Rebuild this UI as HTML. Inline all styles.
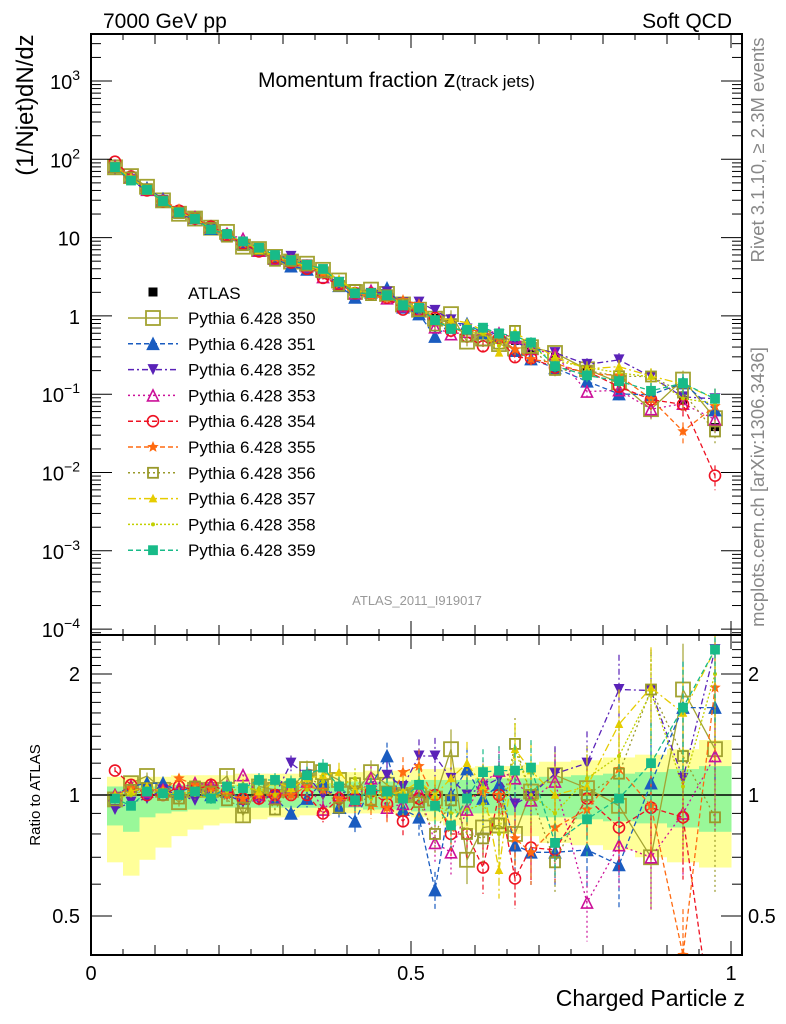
<!DOCTYPE html>
<html><head><meta charset="utf-8"><style>
html,body{margin:0;padding:0;background:#fff;width:786px;height:1024px;overflow:hidden;}
svg{display:block;font-family:"Liberation Sans",Arial,sans-serif;}
</style></head><body>
<svg id="chart" width="786" height="1024" viewBox="0 0 786 1024" xmlns="http://www.w3.org/2000/svg">
<defs>
<clipPath id="clipMain"><rect x="91" y="34" width="651" height="601"/></clipPath>
<clipPath id="clipRatio"><rect x="91" y="635" width="651" height="320"/></clipPath>
</defs>
<g id="bands" clip-path="url(#clipRatio)"></g>
<g id="plotMain" clip-path="url(#clipMain)"></g>
<g id="plotRatio" clip-path="url(#clipRatio)"></g>
<g id="axes"></g>
<text x="103" y="28" font-size="21">7000 GeV pp</text>
<text x="732" y="28" font-size="21" text-anchor="end">Soft QCD</text>
<text x="258" y="87" font-size="21">Momentum fraction <tspan font-size="24">z</tspan><tspan font-size="17">(track jets)</tspan></text>
<text transform="translate(33,105) rotate(-90)" font-size="24" text-anchor="middle">(1/Njet)dN/dz</text>
<text transform="translate(40,795) rotate(-90)" font-size="15" text-anchor="middle">Ratio to ATLAS</text>
<text x="745" y="1006" font-size="23" text-anchor="end">Charged Particle z</text>
<text transform="translate(764,150) rotate(-90)" font-size="18.5" fill="#888" text-anchor="middle">Rivet 3.1.10, ≥ 2.3M events</text>
<text transform="translate(764,487) rotate(-90)" font-size="18.5" fill="#888" text-anchor="middle">mcplots.cern.ch [arXiv:1306.3436]</text>
<text x="417" y="605" font-size="13" fill="#999" text-anchor="middle">ATLAS_2011_I919017</text>
<g id="legend"></g>
</svg>
<script>
const zCenters = [0.0375,0.0625,0.0875,0.1125,0.1375,0.1625,0.1875,0.2125,0.2375,0.2625,0.2875,0.3125,0.3375,0.3625,0.3875,0.4125,0.4375,0.4625,0.4875,0.5125,0.5375,0.5625,0.5875,0.6125,0.6375,0.6625,0.6875,0.725,0.775,0.825,0.875,0.925,0.975];
const binLow = [0.025,0.05,0.075,0.1,0.125,0.15,0.175,0.2,0.225,0.25,0.275,0.3,0.325,0.35,0.375,0.4,0.425,0.45,0.475,0.5,0.525,0.55,0.575,0.6,0.625,0.65,0.675,0.7,0.75,0.8,0.85,0.9,0.95];
const binHigh = [0.05,0.075,0.1,0.125,0.15,0.175,0.2,0.225,0.25,0.275,0.3,0.325,0.35,0.375,0.4,0.425,0.45,0.475,0.5,0.525,0.55,0.575,0.6,0.625,0.65,0.675,0.7,0.75,0.8,0.85,0.9,0.95,1.0];
const atlasValues = [81,57,40,29,21,17,13,10.6,8.6,6.8,5.5,4.8,4.0,3.4,2.6,2.0,1.9,1.8,1.4,1.2,0.94,0.81,0.68,0.62,0.52,0.48,0.39,0.30,0.20,0.15,0.092,0.084,0.038];
const totalBandLow = [0.68,0.63,0.69,0.74,0.79,0.82,0.84,0.85,0.86,0.87,0.88,0.88,0.89,0.89,0.9,0.9,0.9,0.9,0.89,0.88,0.86,0.84,0.82,0.81,0.8,0.8,0.79,0.76,0.75,0.73,0.7,0.68,0.66];
const totalBandHigh = [1.11,1.11,1.11,1.11,1.12,1.12,1.12,1.12,1.13,1.13,1.13,1.13,1.13,1.14,1.14,1.14,1.15,1.15,1.15,1.16,1.16,1.17,1.17,1.18,1.18,1.18,1.19,1.21,1.22,1.24,1.26,1.3,1.37];
const statBandLow = [0.84,0.81,0.88,0.9,0.91,0.92,0.92,0.93,0.93,0.93,0.93,0.93,0.93,0.93,0.93,0.93,0.92,0.92,0.92,0.91,0.91,0.9,0.9,0.9,0.9,0.89,0.89,0.88,0.87,0.86,0.85,0.83,0.81];
const statBandHigh = [1.05,1.05,1.05,1.05,1.06,1.06,1.06,1.06,1.06,1.07,1.07,1.07,1.07,1.07,1.07,1.08,1.08,1.08,1.08,1.09,1.09,1.09,1.09,1.1,1.1,1.1,1.1,1.11,1.12,1.13,1.14,1.16,1.18];
const mcRelErr = [0.02,0.02,0.02,0.02,0.025,0.025,0.03,0.03,0.035,0.04,0.04,0.045,0.05,0.05,0.055,0.06,0.07,0.08,0.09,0.1,0.11,0.12,0.13,0.14,0.15,0.16,0.17,0.17,0.2,0.22,0.26,0.3,0.35];
const seriesNames = ["Pythia 6.428 350","Pythia 6.428 351","Pythia 6.428 352","Pythia 6.428 353","Pythia 6.428 354","Pythia 6.428 355","Pythia 6.428 356","Pythia 6.428 357","Pythia 6.428 358","Pythia 6.428 359"];
const ratio350 = [0.975,1.07,1.115,1.03,0.96,1.03,1.03,1.115,0.89,1.05,1.03,1.03,1.16,1.14,1.09,1.01,1.14,1.06,1.0,1.0,0.98,1.30,0.69,0.83,0.84,0.80,1.02,1.12,1.04,0.94,0.70,1.83,1.30];
const ratio351 = [1.0,1.05,1.07,1.07,1.02,1.05,1.0,1.02,0.98,1.0,0.98,0.9,0.98,1.08,0.93,0.86,1.05,1.25,0.92,0.88,0.58,1.0,1.16,0.98,1.06,0.75,0.72,0.72,0.73,0.67,1.07,1.65,1.65];
const ratio352 = [0.92,0.96,0.98,1.03,1.0,0.97,1.03,1.0,0.96,0.97,1.0,1.2,1.12,1.0,1.03,0.98,1.02,1.12,1.05,1.25,1.25,1.1,1.0,1.05,1.1,0.95,1.0,1.13,1.2,1.83,1.82,1.1,2.3];
const ratio353 = [1.0,1.05,1.02,1.03,1.04,1.07,1.06,1.05,1.12,1.0,0.98,1.05,1.08,0.92,1.0,0.97,1.1,0.93,0.95,1.02,0.76,0.72,0.92,1.07,1.15,1.10,0.97,1.08,0.54,0.75,0.70,0.90,1.25];
const ratio354 = [1.15,1.06,1.0,1.0,1.05,1.03,1.06,1.02,0.98,0.98,1.0,1.0,1.0,0.90,0.98,0.98,1.02,0.95,0.86,0.98,1.0,0.8,0.8,0.66,1.0,0.62,0.74,0.73,0.98,0.83,0.93,0.88,0.24];
const ratio355 = [1.0,1.04,1.03,1.03,1.1,1.06,1.04,1.0,0.98,1.0,1.0,1.0,1.05,1.03,0.98,0.96,0.94,0.93,1.14,1.18,0.97,0.83,0.98,1.02,1.0,0.78,0.72,0.83,0.92,1.16,0.94,0.40,1.85];
const ratio356 = [0.97,1.03,1.04,1.0,0.98,1.05,1.02,0.97,0.93,1.05,0.92,1.05,1.10,1.06,0.93,1.07,0.97,1.02,1.0,0.96,0.80,0.97,0.80,0.78,0.85,1.34,1.0,0.68,1.0,1.13,1.83,1.25,0.88];
const ratio357 = [1.0,1.02,1.05,1.02,1.0,1.03,1.0,1.05,1.06,1.02,1.08,1.04,1.1,1.12,1.14,1.03,1.05,1.0,1.02,1.08,1.0,1.1,1.2,1.05,0.65,1.3,1.15,1.0,1.05,1.5,1.85,1.6,2.3];
const ratio358 = [0.98,1.0,1.03,1.0,1.02,1.0,0.98,1.02,1.04,1.03,1.0,1.06,1.03,1.08,1.05,1.1,0.98,1.02,0.97,1.05,0.95,0.9,0.92,0.95,0.8,1.3,1.0,0.9,1.1,1.25,1.8,1.05,2.0];
const ratio359 = [0.98,0.94,1.02,1.01,1.0,1.02,0.98,1.05,1.04,1.09,1.09,1.07,1.12,1.17,1.05,0.97,1.03,1.02,0.98,1.06,0.94,0.84,0.98,1.14,1.15,1.15,1.17,0.76,0.87,0.98,1.2,1.65,2.3];
const yTickExponents = ["−4","−3","−2","−1","","","2","3"];
const xTickLabels = ["0","0.5","1"];
const ratioTickLabels = ["0.5","1","2"];

const ratioSeries = [ratio350,ratio351,ratio352,ratio353,ratio354,ratio355,ratio356,ratio357,ratio358,ratio359];
const styles = [
 {c:"#a3a332",dash:"",m:"osq",s:14},
 {c:"#1a5cc0",dash:"5,3",m:"tri",s:11},
 {c:"#5a22b8",dash:"6,3,2,3",m:"itri",s:11},
 {c:"#cc1199",dash:"2,3",m:"otri",s:11},
 {c:"#ee1122",dash:"5,3",m:"ocirc",s:11},
 {c:"#ff6a10",dash:"5,3",m:"star",s:12},
 {c:"#99992a",dash:"2,3",m:"osq",s:10},
 {c:"#e6cc00",dash:"8,3,2,3",m:"tri",s:6},
 {c:"#c2d000",dash:"2,2",m:"dot",s:4},
 {c:"#18bb88",dash:"5,3",m:"sq",s:8}
];
const NS="http://www.w3.org/2000/svg";
function mk(tag,attrs,parent){const e=document.createElementNS(NS,tag);for(const k in attrs)e.setAttribute(k,attrs[k]);parent.appendChild(e);return e;}
const X0=91,X1=731;
function xs(z){return X0+(X1-X0)*z;}
function ysMain(v){return 81+(3-Math.log10(v))*78.3;}
function ysRatio(r){return 795-121*Math.log2(r);}

function marker(g,type,x,y,s,c){
 let e;
 if(type==="osq"||type==="sq"){e=mk("rect",{x:x-s/2,y:y-s/2,width:s,height:s,fill:type==="sq"?c:"none",stroke:c,"stroke-width":1.8},g);}
 else if(type==="tri"||type==="otri"){const h=s;e=mk("polygon",{points:`${x},${y-h/2} ${x-h/2},${y+h/2} ${x+h/2},${y+h/2}`,fill:type==="tri"?c:"none",stroke:c,"stroke-width":1.6},g);}
 else if(type==="itri"){const h=s;e=mk("polygon",{points:`${x},${y+h/2} ${x-h/2},${y-h/2} ${x+h/2},${y-h/2}`,fill:c},g);}
 else if(type==="ocirc"){e=mk("circle",{cx:x,cy:y,r:s/2,fill:"none",stroke:c,"stroke-width":1.6},g);}
 else if(type==="dot"){e=mk("circle",{cx:x,cy:y,r:s/2,fill:c},g);}
 else if(type==="star"){let p=[];for(let i=0;i<10;i++){const a=-Math.PI/2+i*Math.PI/5;const r=i%2?s*0.22:s/2;p.push((x+r*Math.cos(a)).toFixed(1)+","+(y+r*Math.sin(a)).toFixed(1));}e=mk("polygon",{points:p.join(" "),fill:c},g);}
 else if(type==="bsq"){e=mk("rect",{x:x-s/2,y:y-s/2,width:s,height:s,fill:c},g);}
 
 
 return e;
}

// bands
const bands=document.getElementById('bands');
for(let k=0;k<zCenters.length;k++){
 const a=xs(binLow[k]),b=xs(binHigh[k]);
 const r1=mk("rect",{x:a,y:ysRatio(totalBandHigh[k]),width:b-a+0.5,height:ysRatio(totalBandLow[k])-ysRatio(totalBandHigh[k]),fill:"#ffff99"},bands);
 
 
}
for(let k=0;k<zCenters.length;k++){
 const a=xs(binLow[k]),b=xs(binHigh[k]);
 const r2=mk("rect",{x:a,y:ysRatio(statBandHigh[k]),width:b-a+0.5,height:ysRatio(statBandLow[k])-ysRatio(statBandHigh[k]),fill:"#99f899"},bands);
 
 
}
const one=mk("line",{x1:X0,x2:742,y1:ysRatio(1),y2:ysRatio(1),stroke:"#000","stroke-width":1.5},bands);



const gMain=document.getElementById('plotMain'), gRatio=document.getElementById('plotRatio');
// ATLAS data (drawn first, underneath)
const ga=mk("g",{},gMain);


zCenters.forEach((z,k)=>{marker(ga,"bsq",xs(z),ysMain(atlasValues[k]),8,"#000");});
// MC series
ratioSeries.forEach((rs,i)=>{
 const st=styles[i];
 ["main","ratio"].forEach(panel=>{
  const g=mk("g",{},panel==="main"?gMain:gRatio);
  
  
  const val=k=>panel==="main"?atlasValues[k]*rs[k]:rs[k];
  const ys=panel==="main"?ysMain:ysRatio;
  const pts=zCenters.map((z,k)=>xs(z).toFixed(1)+","+ys(val(k)).toFixed(1)).join(" ");
  const pl=mk("polyline",{points:pts,fill:"none",stroke:st.c,"stroke-width":1.3,"stroke-dasharray":st.dash},g);
  
  
  zCenters.forEach((z,k)=>{
   const v=val(k),e=mcRelErr[k];
   const eb=mk("line",{x1:xs(z),x2:xs(z),y1:ys(v*(1+e)),y2:ys(Math.max(v*(1-e),1e-6)),stroke:st.c,"stroke-width":1.2,"stroke-dasharray":st.dash},g);
   
   
   marker(g,st.m,xs(z),ys(v),st.s,st.c);
  });
 });
});

// axes
const ax=document.getElementById('axes');
function line(x1,y1,x2,y2,w,name){const l=mk("line",{x1,y1,x2,y2,stroke:"#000","stroke-width":w||1},ax);return l;}
const fr1=mk("rect",{x:91,y:34,width:651,height:601,fill:"none",stroke:"#000","stroke-width":2},ax);


const fr2=mk("rect",{x:91,y:635,width:651,height:320,fill:"none",stroke:"#000","stroke-width":2},ax);


for(let i=0;i<=20;i++){const z=i*0.05;const x=xs(z);const big=i%10===0?14:(i%2===0?10:6);
 [34,635].forEach(y=>line(x,y,x,y+big,1));
 [635,955].forEach(y=>line(x,y,x,y-big,1));}
xTickLabels.forEach((t,i)=>{const tx=mk("text",{x:xs(i*0.5),y:980,"font-size":20,"text-anchor":"middle"},ax);tx.textContent=t;});
for(let d=-4;d<=3;d++){
 const y=ysMain(Math.pow(10,d));
 line(91,y,112,y,1);line(742,y,721,y,1);
 const tx=mk("text",{x:80,y:y+8,"font-size":20,"text-anchor":"end"},ax);
 
 
 const ex=yTickExponents[d+4];
 if(d===0){tx.textContent="1";}
 else if(d===1){tx.textContent="10";}
 else{const b=mk("tspan",{},tx);b.textContent="10";const s=mk("tspan",{"font-size":14,dy:-9},tx);s.textContent=ex;}
 for(let m=2;m<=9;m++){const v=m*Math.pow(10,d);const yy=ysMain(v);if(yy<34)continue;line(91,yy,101,yy,1);line(742,yy,732,yy,1);}
}
for(let m=2;m<=9;m++){const yy=ysMain(m*Math.pow(10,-5));if(yy<635){line(91,yy,101,yy,1);line(742,yy,732,yy,1);}}
[0.5,1,2].forEach((r,i)=>{const y=ysRatio(r);line(91,y,112,y,1);line(742,y,721,y,1);
 const tx=mk("text",{x:80,y:y+7,"font-size":20,"text-anchor":"end"},ax);tx.textContent=ratioTickLabels[i];
 
 
 const tx2=mk("text",{x:748,y:y+7,"font-size":20},ax);tx2.textContent=ratioTickLabels[i];
 
 });
for(let r=0.4;r<=2.55;r+=0.1){const y=ysRatio(r);if(y<636||y>954)continue;if(Math.abs(r-0.5)<1e-6||Math.abs(r-1)<1e-6||Math.abs(r-2)<1e-6)continue;line(91,y,101,y,1);line(742,y,732,y,1);}

// legend
const lg=document.getElementById('legend');
const ent0=mk("g",{},lg);


marker(ent0,"bsq",153,292,9,"#000");
const t0=mk("text",{x:188,y:299,"font-size":17},ent0);t0.textContent="ATLAS";
seriesNames.forEach((n,i)=>{const y=318+i*25.8;const st=styles[i];
 const g=mk("g",{},lg);
 
 
 mk("line",{x1:128,x2:178,y1:y,y2:y,stroke:st.c,"stroke-width":1.5,"stroke-dasharray":st.dash},g);
 marker(g,st.m,153,y,st.s,st.c);
 const t=mk("text",{x:188,y:y+6,"font-size":17},g);t.textContent=n;});
</script>
</body></html>
